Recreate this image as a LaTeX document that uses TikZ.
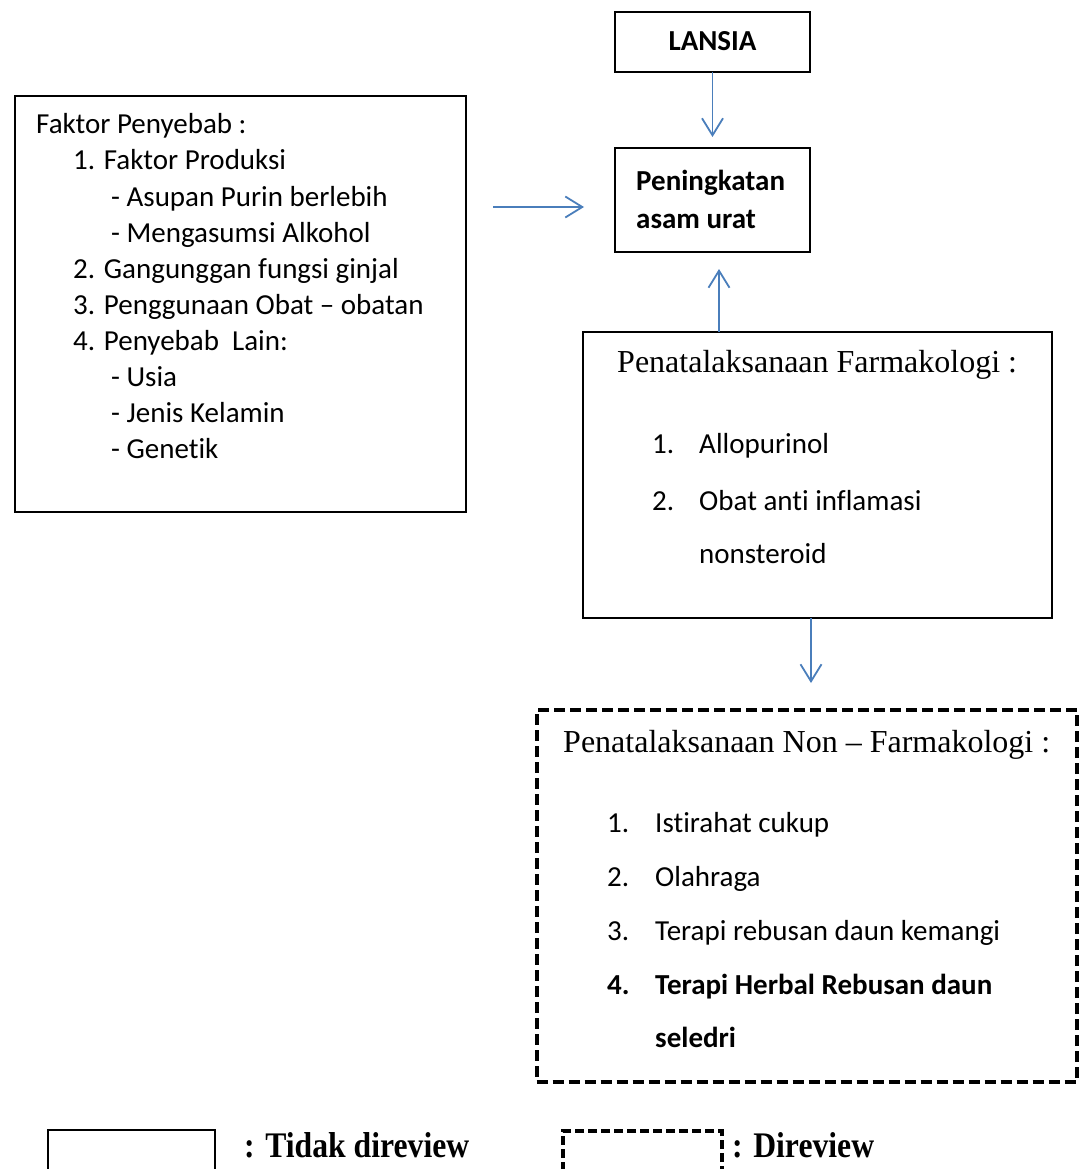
\documentclass[tikz,border=0pt]{standalone}
\usepackage{fontspec}
\setmainfont{Liberation Serif}
\newfontfamily\carl[RawFeature=-liga]{Carlito}
\usetikzlibrary{arrows.meta}
\definecolor{arrblue}{RGB}{74,126,187}
\tikzset{
  box/.style={draw=black, line width=1.4pt, rectangle, inner sep=0pt, outer sep=0pt},
  dbox/.style={draw=black, line width=4pt, dash pattern=on 11pt off 5pt, rectangle, inner sep=0pt, outer sep=0pt},
  ldbox/.style={draw=black, line width=3.5pt, dash pattern=on 9pt off 4pt, rectangle, inner sep=0pt, outer sep=0pt},
  cl/.style={anchor=base west, inner sep=0pt, font=\carl\fontsize{29}{35}\selectfont},
  clb/.style={anchor=base west, inner sep=0pt, font=\carl\bfseries\fontsize{29}{35}\selectfont},
  tn/.style={anchor=base west, inner sep=0pt, font=\fontsize{32}{38}\selectfont},
  leg/.style={anchor=base west, inner sep=0pt, font=\bfseries\fontsize{36}{42}\selectfont},
  arr/.style={draw=arrblue, line width=1.8pt, -{Straight Barb[length=17pt,width=21pt,line width=1.8pt]}}
}
\begin{document}
\begin{tikzpicture}[x=1pt,y=-1pt]
\useasboundingbox (0,0) rectangle (1083,1169);
\clip (0,0) rectangle (1083,1169);
% boxes
\node[box, minimum width=195pt, minimum height=60pt] (lan) at (712.5,42) {};
\node[box, minimum width=195pt, minimum height=104pt] (pen) at (712.5,200) {};
\node[box, minimum width=451pt, minimum height=416pt] (fak) at (240.5,304) {};
\node[box, minimum width=469pt, minimum height=286pt] (farm) at (817.5,475) {};
\node[dbox, minimum width=540pt, minimum height=372pt] (nonf) at (806.5,896) {};
% LANSIA
\node[clb, anchor=base] (lant) at (712.5,51) {LANSIA};
% Peningkatan
\node[clb] (pen1) at (636,190) {Peningkatan};
\node[clb] (pen2) at (636,228) {asam urat};
% Faktor
\node[cl] (f0) at (36,134) {Faktor Penyebab :};
\node[cl] (f1) at (73,170) {1. Faktor Produksi};
\node[cl] (f2) at (111,206) {- Asupan Purin berlebih};
\node[cl] (f3) at (111,242) {- Mengasumsi Alkohol};
\node[cl] (f4) at (73,278) {2. Gangunggan fungsi ginjal};
\node[cl] (f5) at (73,314) {3. Penggunaan Obat – obatan};
\node[cl] (f6) at (73,350) {4. Penyebab\ \ Lain:};
\node[cl] (f7) at (111,386) {- Usia};
\node[cl] (f8) at (111,422) {- Jenis Kelamin};
\node[cl] (f9) at (111,458) {- Genetik};
% Farmakologi
\node[tn] (ft) at (617,372) {Penatalaksanaan Farmakologi :};
\node[cl] (fn1) at (652,453) {1.};
\node[cl] (fi1) at (699,453) {Allopurinol};
\node[cl] (fn2) at (652,510) {2.};
\node[cl] (fi2) at (699,510) {Obat anti inflamasi};
\node[cl] (fi2b) at (699,563) {nonsteroid};
% Non farmakologi
\node[tn] (nt) at (563,752) {Penatalaksanaan Non – Farmakologi :};
\node[cl] (nn1) at (607,832) {1.};
\node[cl] (ni1) at (655,832) {Istirahat cukup};
\node[cl] (nn2) at (607,886) {2.};
\node[cl] (ni2) at (655,886) {Olahraga};
\node[cl] (nn3) at (607,940) {3.};
\node[cl] (ni3) at (655,940) {Terapi rebusan daun kemangi};
\node[clb] (nn4) at (607,994) {4.};
\node[clb] (ni4) at (655,994) {Terapi Herbal Rebusan daun};
\node[clb] (ni4b) at (655,1047) {seledri};
% arrows
\draw[arr, shorten >=11pt] (lan.south) -- (pen.north);
\draw[arr, shorten <=27pt, shorten >=31pt] ([yshift=-7pt]pen.west -| fak.east) -- ([yshift=-7pt]pen.west);
\draw[arr, shorten >=17pt] ([xshift=6.5pt]pen.south |- farm.north) -- ([xshift=6.5pt]pen.south);
\draw[arr, shorten >=27pt] ([xshift=-6.5pt]farm.south) -- ([xshift=-6.5pt]farm.south |- nonf.north);
% legend
\node[box, minimum width=167pt, minimum height=80pt] (lg1) at (131.5,1170) {};
\node[leg] (lg1t) at (244,1157) {\scalebox{0.88}[1]{: Tidak direview}};
\node[ldbox, minimum width=159pt, minimum height=80pt] (lg2) at (642.5,1171) {};
\node[leg] (lg2t) at (732,1157) {\scalebox{0.88}[1]{: Direview}};
\end{tikzpicture}
\end{document}
